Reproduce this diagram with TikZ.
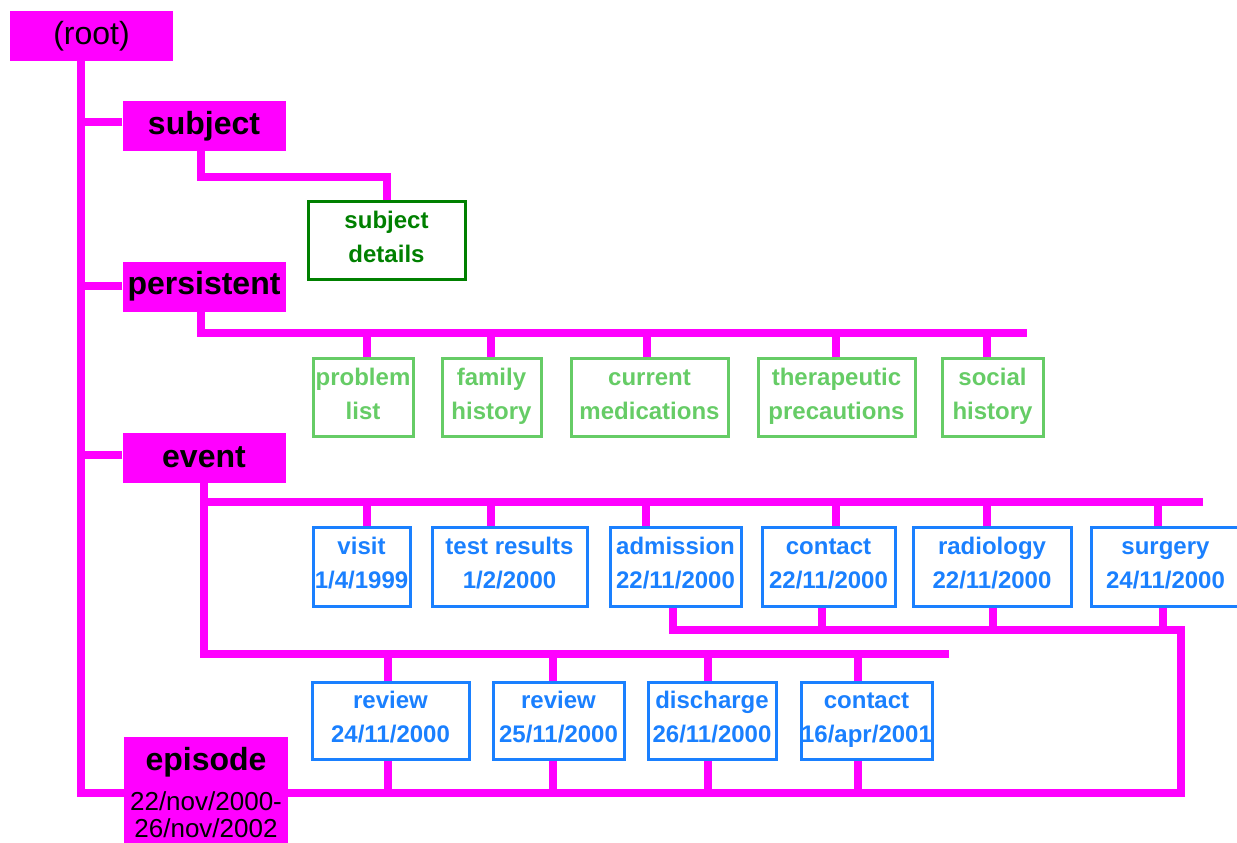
\documentclass[tikz,border=0pt]{standalone}
\usepackage{fontspec}
\setmainfont{Liberation Sans}
\usetikzlibrary{backgrounds}

\definecolor{wirepink}{RGB}{255,0,255}
\definecolor{darkleaf}{RGB}{0,128,0}
\definecolor{lightleaf}{RGB}{102,204,102}
\definecolor{evtblue}{RGB}{26,128,255}

% two lines of a box, with the same height in every box
\newcommand\lstrut{\rule[-12pt]{0pt}{34pt}}
\newcommand\duo[2]{\lstrut#1\\\lstrut#2}

\tikzset{
  wire/.style={draw=wirepink, line width=8pt},
  hdr/.style={fill=wirepink, inner sep=0pt, minimum width=163pt, minimum height=50pt,
    font=\fontsize{32}{38}\selectfont\bfseries},
  leaf/.style={draw=lightleaf, text=lightleaf, line width=3pt, inner sep=0pt,
    minimum height=78pt, align=center, font=\fontsize{24}{34}\selectfont\bfseries},
  evt/.style={leaf, draw=evtblue, text=evtblue, minimum height=79pt},
}

\begin{document}
\begin{tikzpicture}[x=1pt,y=-1pt]
  \useasboundingbox (0,0) rectangle (1237,843);

  % headers on the left
  \node[hdr] (root) at (91.5,36) {\mdseries (root)};
  \node[hdr] (subject) at (204,126) {subject};
  \node[hdr] (persistent) at (204,286.5) {persistent};
  \node[hdr] (event) at (204,457.5) {event};
  \node[hdr, minimum width=164pt, minimum height=106pt, align=center,
    font=\fontsize{26}{27}\selectfont] (episode) at (206,790)
    {{\fontsize{32}{38}\selectfont\bfseries\rule{0pt}{29pt}episode}\\[13pt]22/nov/2000-\\26/nov/2002};

  \node[leaf, draw=darkleaf, text=darkleaf, minimum width=157pt] (details) at (386.5,240) {\duo{subject}{details}};

  % persistent items
  \node[leaf, minimum width=100pt] (problem) at (363,397) {\duo{problem}{list}};
  \node[leaf, minimum width=99pt] (family) at (491.5,397) {\duo{family}{history}};
  \node[leaf, minimum width=157pt] (meds) at (649.5,397) {\duo{current}{medications}};
  \node[leaf, minimum width=157pt] (thera) at (836.5,397) {\duo{therapeutic}{precautions}};
  \node[leaf, minimum width=101pt] (social) at (992.5,397) {\duo{social}{history}};

  % events, first row
  \node[evt, minimum width=97pt] (visit) at (361.5,566.5) {\duo{visit}{1/4/1999}};
  \node[evt, minimum width=155pt] (tests) at (509.5,566.5) {\duo{test results}{1/2/2000}};
  \node[evt, minimum width=131pt] (admit) at (675.5,566.5) {\duo{admission}{22/11/2000}};
  \node[evt, minimum width=133pt] (contA) at (828.5,566.5) {\duo{contact}{22/11/2000}};
  \node[evt, minimum width=158pt] (radio) at (992,566.5) {\duo{radiology}{22/11/2000}};
  \node[evt, minimum width=149pt] (surgery) at (1165.5,566.5) {\duo{surgery}{24/11/2000}};

  % events, second row
  \node[evt, minimum width=157pt, minimum height=77pt] (revA) at (390.5,720.5) {\duo{review}{24/11/2000}};
  \node[evt, minimum width=131pt, minimum height=77pt] (revB) at (558.5,720.5) {\duo{review}{25/11/2000}};
  \node[evt, minimum width=128pt, minimum height=77pt] (disch) at (712,720.5) {\duo{discharge}{26/11/2000}};
  \node[evt, minimum width=131pt, minimum height=77pt] (contB) at (866.5,720.5) {\duo{contact}{16/apr/2001}};

  \coordinate (pend) at (1027,333);
  \coordinate (eA) at (1203,502);
  \coordinate (eB) at (949,654);
  \coordinate (eC) at (1181,630);

  \begin{pgfonlayer}{background}
    % trunk
    \draw[wire] ([xshift=-10.5]root.south) |- ([yshift=-3]episode.west);
    \foreach \n/\dy in {subject/4, persistent/0.5, event/2.5}
      \draw[wire] ([yshift=\dy]\n.west) -- ++(-45,0);

    \draw[wire] ([xshift=-3]subject.south) -- ++(0,26) -| (details.north);

    % persistent bus
    \draw[wire] ([xshift=-3]persistent.south) |- (pend);
    \foreach \n/\dx in {problem/4, family/-0.5, meds/-2.5, thera/-0.5, social/-5.5}
      \draw[wire] ([xshift=\dx]\n.north) -- ++(0,-25);

    % event buses
    \draw[wire] (eA) -| (event.south);
    \draw[wire] (eB) -| (event.south);
    \foreach \n/\dx in {visit/5.5, tests/-18.5, admit/-29.5, contA/7.5, radio/-5, surgery/-7.5}
      \draw[wire] ([xshift=\dx]\n.north) -- ++(0,-25);

    % back to the episode
    \draw[wire] ([xshift=-2.5]admit.south) |- (eC) |- ([yshift=-3]episode.east);
    \foreach \n/\dx in {contA/-6.5, radio/1, surgery/-2.5}
      \draw[wire] ([xshift=\dx]\n.south) -- ++(0,24);
    \foreach \n/\dx in {revA/-2.5, revB/-5.5, disch/-4, contB/-8.5} {
      \draw[wire] ([xshift=\dx]\n.north) -- ++(0,-28);
      \draw[wire] ([xshift=\dx]\n.south) -- ++(0,34);
    }
  \end{pgfonlayer}

\end{tikzpicture}
\end{document}
